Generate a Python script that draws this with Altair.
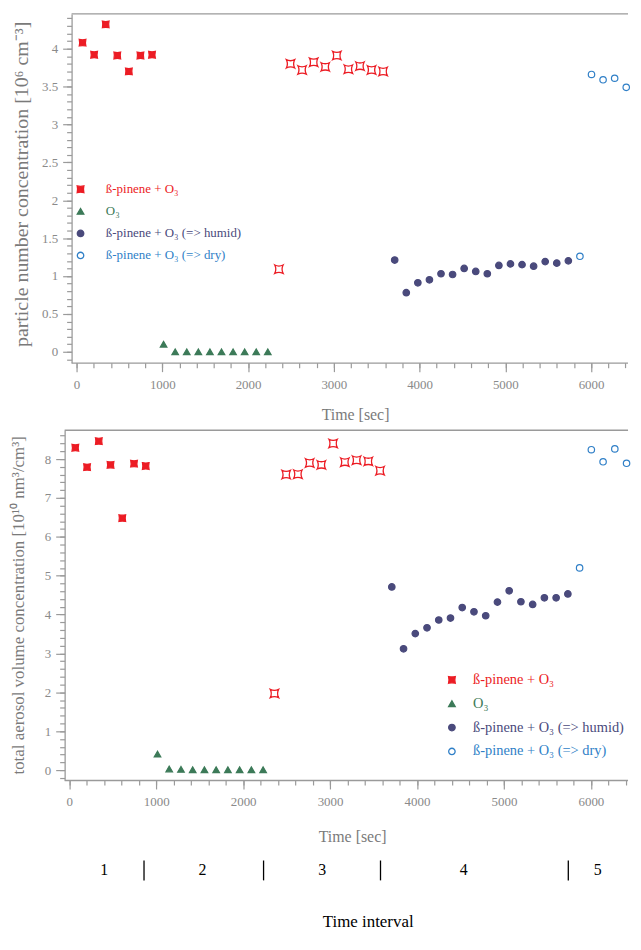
import altair as alt
import pandas as pd

# ---------------- data ----------------
SERIES = ["ß-pinene + O₃", "O₃", "ß-pinene + O₃ (=> humid)", "ß-pinene + O₃ (=> dry)"]

t_pinene1 = [70, 205, 340, 475, 610, 745, 880]
t_o3 = [1015, 1150, 1285, 1420, 1555, 1690, 1825, 1960, 2095, 2230]
t_pinene3 = [2360, 2495, 2630, 2765, 2900, 3035, 3170, 3305, 3440, 3575]
t_humid = [3710, 3845, 3980, 4115, 4250, 4385, 4520, 4655, 4790, 4925,
           5060, 5195, 5330, 5465, 5600, 5735]
t_dry = [5870, 6005, 6140, 6275, 6410]

# particle number concentration [10^6 cm^-3]
n_pinene1 = [4.08, 3.92, 4.32, 3.91, 3.70, 3.91, 3.92]
n_o3 = [0.10, 0.0, 0.0, 0.0, 0.0, 0.0, 0.0, 0.0, 0.0, 0.0]
n_pinene3 = [1.09, 3.80, 3.72, 3.82, 3.76, 3.91, 3.73, 3.77, 3.72, 3.70]
n_humid = [1.21, 0.78, 0.91, 0.95, 1.03, 1.02, 1.10, 1.06, 1.03, 1.14,
           1.16, 1.15, 1.13, 1.19, 1.17, 1.20]
n_dry = [1.26, 3.66, 3.59, 3.61, 3.49]

# total aerosol volume concentration [10^10 nm^3/cm^3]
v_pinene1 = [8.29, 7.79, 8.46, 7.85, 6.48, 7.88, 7.82]
v_o3 = [0.41, 0.03, 0.02, 0.01, 0.01, 0.01, 0.01, 0.01, 0.01, 0.01]
v_pinene3 = [1.97, 7.60, 7.61, 7.90, 7.85, 8.40, 7.92, 7.97, 7.94, 7.70]
v_humid = [4.71, 3.12, 3.51, 3.66, 3.86, 3.91, 4.18, 4.07, 3.97, 4.32,
           4.61, 4.33, 4.26, 4.43, 4.43, 4.53]
v_dry = [5.20, 8.24, 7.93, 8.26, 7.89]

interval_bounds = [860, 2235, 3580, 5740]
interval_label_pos = [402, 1533, 2911, 4537, 6077]
interval_labels = ["1", "2", "3", "4", "5"]

# ---------------- style ----------------
RED = "#ec1c24"
GREEN = "#3c7a58"
PURPLE = "#4a4a7c"
BLUE = "#2f7fc7"
AXIS = "#9a9a9a"
LABEL = "#8a8a8a"
TITLEC = "#7a7a7a"
STAR = "M -1 -1 Q 0 -0.5 1 -1 Q 0.5 0 1 1 Q 0 0.5 -1 1 Q -0.5 0 -1 -1 Z"
STAR_FILLED = "M -1 -1 Q 0 -0.75 1 -1 Q 0.75 0 1 1 Q 0 0.75 -1 1 Q -0.75 0 -1 -1 Z"

LABEL_EXPR = (
    "datum.index == 0 ? '" + RED + "' : datum.index == 1 ? '" + GREEN +
    "' : datum.index == 2 ? '" + PURPLE + "' : '" + BLUE + "'"
)


def make_df(vals1, vals_o3, vals3, vals_h, vals_d):
    rows = []
    for t, v in zip(t_pinene1, vals1):
        rows.append((t, v, SERIES[0], "main"))
    for t, v in zip(t_o3, vals_o3):
        rows.append((t, v, SERIES[1], "main"))
    for t, v in zip(t_pinene3, vals3):
        rows.append((t, v, SERIES[0], "hollow"))
    for t, v in zip(t_humid, vals_h):
        rows.append((t, v, SERIES[2], "main"))
    for t, v in zip(t_dry, vals_d):
        rows.append((t, v, SERIES[3], "main"))
    return pd.DataFrame(rows, columns=["time", "value", "series", "style"])


def panel(df, w, h, xdom, ydom, ymaj, yminor, xmaj, xminor, ytitle, ytitle_size,
          ytitle_x, ytitle_y, xtitle_x, xtitle_y, leg_x, leg_y, leg_font, leg_row,
          leg_off, yoff):
    xs = alt.Scale(domain=xdom, nice=False, zero=False)
    ys = alt.Scale(domain=ydom, nice=False, zero=False)
    base = alt.Chart(df)
    one = alt.Chart(pd.DataFrame({"k": [0]}))

    border = one.mark_rule(color=AXIS, strokeWidth=1.3).encode(
        x=alt.value(yoff), x2=alt.value(w), y=alt.value(0))
    xline = one.mark_rule(color=AXIS, strokeWidth=1.3).encode(
        x=alt.value(yoff), x2=alt.value(w), y=alt.value(h + 0.5))

    minor = base.mark_point(opacity=0, clip=True).encode(
        x=alt.X("time:Q", scale=xs, axis=alt.Axis(
            orient="bottom", values=xminor, labels=False, domain=False,
            tickSize=5, tickColor=AXIS, tickWidth=1.2, grid=False, title=None)),
        y=alt.Y("value:Q", scale=ys, axis=alt.Axis(
            orient="left", values=yminor, labels=False, domain=False, offset=-yoff,
            tickSize=5, tickColor=AXIS, tickWidth=1.2, grid=False, title=None)),
    )

    leg = alt.Legend(
        title=None, orient="none", legendX=leg_x, legendY=leg_y, padding=0,
        labelFontSize=leg_font, labelColor={"expr": LABEL_EXPR},
        labelFont="Liberation Serif", symbolStrokeWidth=1.3, labelOffset=leg_off,
        rowPadding=leg_row, labelLimit=400, symbolOpacity=1,
    )
    main = base.transform_filter("datum.style == 'main'").mark_point(
        opacity=1, strokeWidth=1.2
    ).encode(
        x=alt.X("time:Q", scale=xs, axis=alt.Axis(
            orient="bottom", values=xmaj, format="d", tickSize=9, tickColor=AXIS,
            tickWidth=1.2, domain=False, labelColor=LABEL,
            labelFontSize=13, labelPadding=7, labelFlush=False, labelOverlap=False,
            grid=False, title="Time [sec]", titleFontSize=16, titleColor=TITLEC,
            titleFontWeight="normal", titleX=xtitle_x, titleY=xtitle_y,
            titleBaseline="middle", titleAlign="center")),
        y=alt.Y("value:Q", scale=ys, axis=alt.Axis(
            orient="left", values=ymaj, format="~g", tickSize=9, tickColor=AXIS,
            tickWidth=1.2, domainColor=AXIS, domainWidth=1.3, labelColor=LABEL,
            labelFontSize=13, labelPadding=5, labelFlush=False, labelOverlap=False,
            grid=False, title=ytitle, titleFontSize=ytitle_size, titleColor=TITLEC,
            titleFontWeight="normal", titleX=ytitle_x, titleY=ytitle_y, offset=-yoff,
            titleAngle=270, titleBaseline="middle", titleAlign="center")),
        color=alt.Color("series:N", scale=alt.Scale(domain=SERIES, range=[RED, GREEN, PURPLE, BLUE]), legend=leg),
        fill=alt.Fill("series:N", scale=alt.Scale(domain=SERIES, range=[RED, GREEN, PURPLE, "transparent"]), legend=leg),
        shape=alt.Shape("series:N", scale=alt.Scale(domain=SERIES, range=[STAR_FILLED, "triangle-up", "circle", "circle"]), legend=leg),
        size=alt.Size("series:N", scale=alt.Scale(domain=SERIES, range=[45, 42, 55, 48]), legend=leg),
    )

    hollow = base.transform_filter("datum.style == 'hollow'").mark_point(
        shape=STAR, size=70, color=RED, filled=False, strokeWidth=1.3, opacity=1
    ).encode(
        x=alt.X("time:Q", scale=xs, axis=None),
        y=alt.Y("value:Q", scale=ys, axis=None),
    )

    return alt.layer(border, xline, minor, main, hollow).resolve_axis(
        x="independent", y="independent"
    ).properties(width=w, height=h)


top_df = make_df(n_pinene1, n_o3, n_pinene3, n_humid, n_dry)
bot_df = make_df(v_pinene1, v_o3, v_pinene3, v_humid, v_dry)

W = 567

top = panel(
    top_df, W, 351, [-139, 6431], [-0.144, 4.459],
    [0, 0.5, 1, 1.5, 2, 2.5, 3, 3.5, 4],
    [round(-0.1 + 0.1 * i, 1) for i in range(46)],
    [0, 1000, 2000, 3000, 4000, 5000, 6000],
    list(range(0, 6401, 200)),
    "particle number concentration [10⁶ cm⁻³]", 20, -50.7, 171, 292.3, 52.5,
    9.5, 170, 13, 8.2, 19, 7,
)

bottom = panel(
    bot_df, W, 352, [-53, 6427], [-0.255, 8.74],
    [0, 1, 2, 3, 4, 5, 6, 7, 8],
    [round(-0.2 + 0.2 * i, 1) for i in range(45)],
    [0, 1000, 2000, 3000, 4000, 5000, 6000],
    list(range(0, 6401, 200)),
    "total aerosol volume concentration [10¹⁰ nm³/cm³]", 17, -46.7, 175.7, 289.3, 57,
    382.5, 244, 14.5, 9, 14, 0,
)

xs3 = alt.Scale(domain=[-53, 6427], nice=False, zero=False)
seps = alt.Chart(pd.DataFrame({"t": interval_bounds})).mark_rule(
    color="black", strokeWidth=1.3
).encode(
    x=alt.X("t:Q", scale=xs3, axis=None),
    y=alt.value(13), y2=alt.value(33),
)
labs = alt.Chart(pd.DataFrame({"t": interval_label_pos, "label": interval_labels})).mark_text(
    fontSize=16, color="black", baseline="middle", align="center"
).encode(
    x=alt.X("t:Q", scale=xs3, axis=None),
    y=alt.value(23),
    text="label:N",
)
intervals = alt.layer(seps, labs).properties(
    width=W, height=40,
    title=alt.Title("Time interval", orient="bottom", anchor="middle", fontSize=17,
                    fontWeight="normal", color="black", font="Liberation Serif",
                    offset=27, dx=22),
)

chart = alt.vconcat(top, bottom, intervals, spacing=68, bounds="flush").resolve_scale(
    color="independent", fill="independent", shape="independent", size="independent"
).properties(
    padding={"left": 1, "top": 2, "right": 0, "bottom": 0}
).configure(
    font="Liberation Serif"
).configure_view(stroke=None)

chart.save("out.html", embed_options={"renderer": "svg", "actions": False})
